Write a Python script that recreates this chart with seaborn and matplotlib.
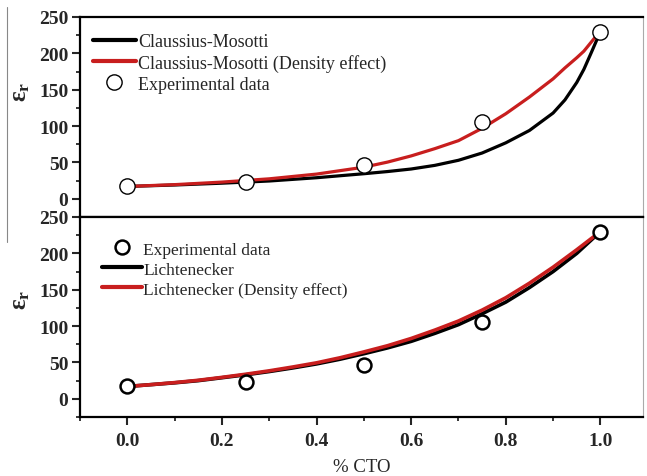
import matplotlib
matplotlib.use("Agg")
import matplotlib.pyplot as plt
import seaborn as sns
import pandas as pd
from matplotlib.lines import Line2D
from matplotlib.ticker import MultipleLocator

# ---------------- data ----------------
cto_exp = [0.0, 0.25, 0.5, 0.75, 1.0]
eps_exp = [17, 23, 47, 106, 230]

cto_cm = [0.0, 0.1, 0.2, 0.3, 0.4, 0.5, 0.55, 0.6, 0.65, 0.7, 0.75, 0.8,
          0.85, 0.9, 0.925, 0.95, 0.965, 0.98, 0.99, 1.0]
eps_cm = [17, 19, 21.5, 24.5, 29, 34.5, 37.5, 41, 46, 53, 63, 77,
          94, 118, 136, 160, 178, 200, 215, 230]
eps_cm_density = [17, 19.5, 23, 27.5, 34, 43.5, 50.5, 59, 69, 80, 97, 117,
                  140, 165, 180, 194, 203, 215, 223, 230]

cto_lich = [0.0, 0.05, 0.1, 0.15, 0.2, 0.25, 0.3, 0.35, 0.4, 0.45, 0.5,
            0.55, 0.6, 0.65, 0.7, 0.75, 0.8, 0.85, 0.9, 0.95, 1.0]
eps_lich = [17, 19.5, 22, 25, 29, 33, 37.5, 42.5, 48, 54.5, 62,
            70, 79, 90, 102, 117, 133, 153, 175, 200, 230]
eps_lich_density = [17, 19.5, 22.3, 25.5, 29.5, 33.8, 38.5, 43.8, 49.5, 56.5, 64.5,
                    73, 83, 94.5, 107, 122, 139, 159, 181, 205, 230]

x_ticks = [0.0, 0.2, 0.4, 0.6, 0.8, 1.0]
x_tick_labels = ["0.0", "0.2", "0.4", "0.6", "0.8", "1.0"]
y_ticks = [0, 50, 100, 150, 200, 250]

RED = "#c81e1e"

sns.set_theme(style="ticks")
plt.rcParams["font.family"] = ["Liberation Serif", "DejaVu Serif"]
plt.rcParams["mathtext.fontset"] = "custom"
plt.rcParams["mathtext.rm"] = "Liberation Serif"
plt.rcParams["mathtext.bf"] = "Liberation Serif:bold"
plt.rcParams["mathtext.it"] = "Liberation Serif:italic"

W, H = 647, 477
fig = plt.figure(figsize=(W / 100, H / 100), dpi=100)
L, R = 80 / W, 643 / W
ax_top = fig.add_axes([L, (H - 218) / H, R - L, 200 / H])
ax_bot = fig.add_axes([L, (H - 418) / H, R - L, 200 / H])

df_cm = pd.DataFrame({"x": cto_cm, "cm": eps_cm, "cmd": eps_cm_density})
df_li = pd.DataFrame({"x": cto_lich, "li": eps_lich, "lid": eps_lich_density})
df_exp = pd.DataFrame({"x": cto_exp, "y": eps_exp})

lw = 2.3
# top panel
sns.lineplot(data=df_cm, x="x", y="cm", ax=ax_top, color="black", lw=lw)
sns.lineplot(data=df_cm, x="x", y="cmd", ax=ax_top, color=RED, lw=lw)
ax_top.plot(df_exp["x"], df_exp["y"], ls="none", marker="o", ms=11,
            mfc="white", mec="black", mew=1.0, zorder=5)

# bottom panel
sns.lineplot(data=df_li, x="x", y="li", ax=ax_bot, color="black", lw=lw + 0.3)
sns.lineplot(data=df_li, x="x", y="lid", ax=ax_bot, color=RED, lw=lw + 0.3)
ax_bot.plot(df_exp["x"], df_exp["y"], ls="none", marker="o", ms=10,
            mfc="white", mec="black", mew=1.8, zorder=5)

for ax in (ax_top, ax_bot):
    ax.set_xlim(-0.1, 1.09)
    ax.set_ylim(-25, 250)
    ax.set_yticks(y_ticks)
    ax.yaxis.set_minor_locator(MultipleLocator(25))
    ax.tick_params(axis="y", which="major", direction="out", length=6, width=1.5,
                   pad=2.5, labelsize=14)
    ax.tick_params(axis="y", which="minor", direction="out", length=3, width=1.3)
    for lab in ax.get_yticklabels():
        lab.set_fontweight("bold")
    for s in ("left", "top", "bottom"):
        ax.spines[s].set_linewidth(1.6)
        ax.spines[s].set_color("black")
    ax.spines["right"].set_linewidth(0.8)
    ax.spines["right"].set_color("#aaaaaa")
    ax.set_ylabel(r"$\mathbf{ε_r}$", fontsize=18, rotation=90)

ax_top.tick_params(axis="x", which="both", bottom=False, labelbottom=False)
ax_top.set_xlabel("")
ax_top.yaxis.set_label_coords(-0.085, 0.63)
ax_bot.yaxis.set_label_coords(-0.085, 0.59)

ax_bot.set_xticks(x_ticks)
ax_bot.set_xticklabels(x_tick_labels, fontweight="bold")
ax_bot.xaxis.set_minor_locator(MultipleLocator(0.1))
ax_bot.tick_params(axis="x", which="major", direction="out", length=6, width=1.5,
                   pad=5, labelsize=14)
ax_bot.tick_params(axis="x", which="minor", direction="out", length=3, width=1.3)
ax_bot.set_xlabel("% CTO", fontsize=13.5, labelpad=6)

# legends
h_cm = Line2D([], [], color="black", lw=3)
h_cmd = Line2D([], [], color=RED, lw=3)
h_exp1 = Line2D([], [], ls="none", marker="o", ms=11, mfc="white", mec="black", mew=1.0)
ax_top.legend([h_cm, h_cmd, h_exp1],
              ["Claussius-Mosotti", "Claussius-Mosotti (Density effect)", "Experimental data"],
              loc="upper left", bbox_to_anchor=(0.003, 0.975), frameon=False,
              fontsize=13, handlelength=2.4, handletextpad=0.12, labelspacing=0.22,
              borderaxespad=0.2)

h_exp2 = Line2D([], [], ls="none", marker="o", ms=10, mfc="white", mec="black", mew=1.8)
h_li = Line2D([], [], color="black", lw=3)
h_lid = Line2D([], [], color=RED, lw=3)
ax_bot.legend([h_exp2, h_li, h_lid],
              ["Experimental data", "Lichtenecker", "Lichtenecker (Density effect)"],
              loc="upper left", bbox_to_anchor=(0.02, 0.93), frameon=False,
              fontsize=12.5, handlelength=2.3, handletextpad=0.1, labelspacing=0.22,
              borderaxespad=0.2)

# thin vertical artefact line at the far left of the upper panel
fig.add_artist(Line2D([7 / W, 7 / W], [1 - 8 / H, 1 - 243 / H],
                      transform=fig.transFigure, color="#888888", lw=0.8))

fig.savefig("out.png", dpi=100)
